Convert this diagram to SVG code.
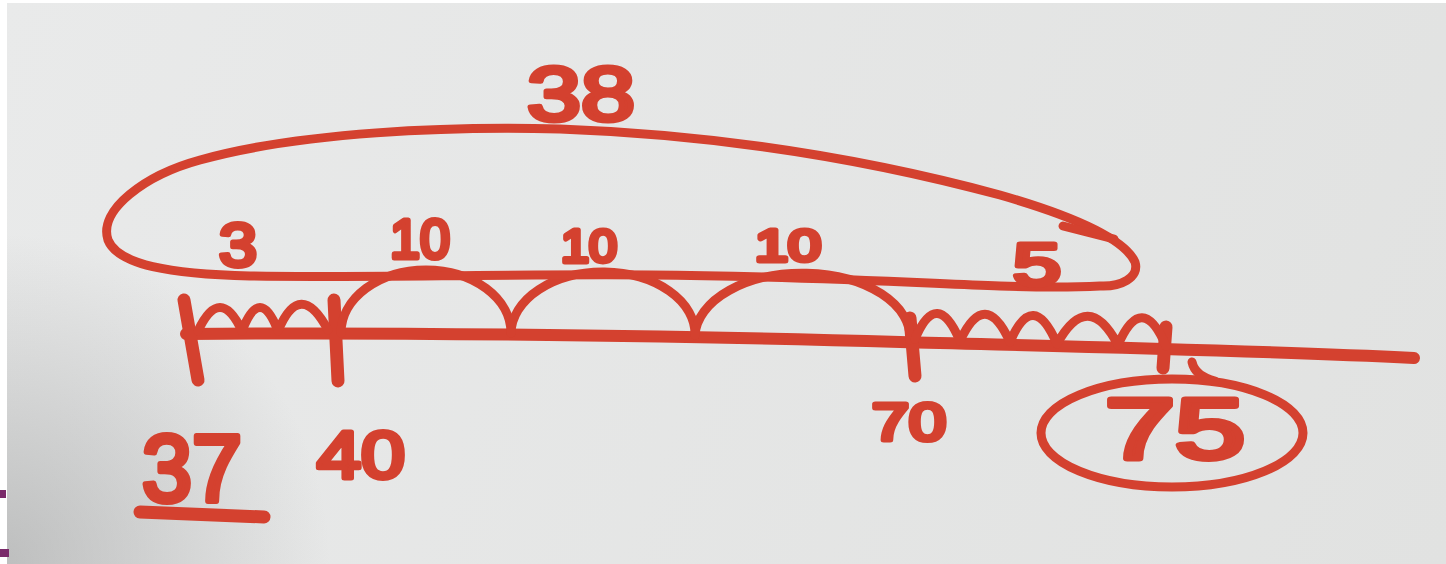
<svg xmlns="http://www.w3.org/2000/svg" width="1446" height="564" viewBox="0 0 1446 564">
  <defs>
    <radialGradient id="shade" cx="0" cy="564" r="330" gradientUnits="userSpaceOnUse">
      <stop offset="0" stop-color="#9a9b9b" stop-opacity="0.55"/>
      <stop offset="1" stop-color="#9a9b9b" stop-opacity="0"/>
    </radialGradient>
    <linearGradient id="paper" x1="0" y1="0" x2="1446" y2="564" gradientUnits="userSpaceOnUse">
      <stop offset="0" stop-color="#e9eaea"/>
      <stop offset="1" stop-color="#e1e2e1"/>
    </linearGradient>
    <style>
      .ink { fill: none; stroke: #d4412f; stroke-linecap: round; stroke-linejoin: round; }
      .main { stroke-width: 12; }
      .tick { stroke-width: 13; }
      .hop { stroke-width: 9; }
      .loop { stroke-width: 9; }
      .num { fill: #d4412f; stroke: #d4412f; stroke-width: 5; stroke-linejoin: round; stroke-linecap: round;
             font-family: "Liberation Sans", "DejaVu Sans", sans-serif; font-weight: normal; text-anchor: middle; }
      .big { stroke-width: 6; }
    </style>
  </defs>

  <rect width="1446" height="564" fill="#ffffff"/>
  <rect x="7" y="3" width="1439" height="561" fill="url(#paper)"/>
  <rect x="7" y="3" width="1439" height="561" fill="url(#shade)"/>
  <rect x="0" y="490" width="6" height="8" fill="#7a2a6a"/>
  <rect x="0" y="549" width="9" height="8" fill="#7a2a6a"/>

  <g id="number-line">
    <path class="ink main" d="M186,334 C400,332 700,336 900,342 C1050,346 1250,350 1414,358"/>
  </g>

  <g id="ticks">
    <path class="ink tick" d="M184,300 L198,380"/>
    <path class="ink tick" d="M334,300 L338,381"/>
    <path class="ink tick" d="M910,318 L915,376"/>
    <path class="ink tick" d="M1166,327 L1163,368"/>
  </g>

  <g id="connectors">
    <path class="ink hop" d="M198,331 Q220,284 242,331 Q260,284 278,331 Q300,278 328,330"/>
    <path class="ink hop" d="M341,333 A85,63 0 0 1 511,333"/>
    <path class="ink hop" d="M511,333 A92,62 0 0 1 695,335"/>
    <path class="ink hop" d="M695,335 A107,64 0 0 1 910,340"/>
    <path class="ink hop" d="M915,339 Q937,287 960,341 Q985,287 1010,342 Q1033,288 1057,344 Q1088,288 1118,345 Q1142,290 1166,346"/>
    <path class="ink loop" d="M1100,286 C1060,288 1030,287 1000,286 C900,282 800,276 650,275 C500,274 350,278 250,276 C170,274 118,265 108,240 C98,210 145,175 200,160 C300,132 450,126 560,129 C750,136 900,168 1000,195 C1080,218 1125,240 1135,262 C1140,278 1120,287 1100,286 Z"/>
    <path class="ink loop" d="M1063,226 L1114,239"/>
  </g>

  <g id="target-circle">
    <ellipse class="ink loop" cx="1172" cy="433" rx="131" ry="54"/>
    <path class="ink loop" d="M1192,362 Q1195,376 1215,381"/>
  </g>

  <g id="labels">
    <text class="num" x="581" y="120" font-size="76" textLength="108" lengthAdjust="spacingAndGlyphs">38</text>
    <text class="num" x="238" y="266" font-size="62" textLength="38" lengthAdjust="spacingAndGlyphs">3</text>
    <text class="num" x="420" y="258" font-size="56" textLength="60" lengthAdjust="spacingAndGlyphs">10</text>
    <text class="num" x="589" y="262" font-size="47" textLength="56" lengthAdjust="spacingAndGlyphs">10</text>
    <text class="num" x="788" y="261" font-size="45" textLength="66" lengthAdjust="spacingAndGlyphs">10</text>
    <text class="num" x="1037" y="285" font-size="60" textLength="48" lengthAdjust="spacingAndGlyphs">5</text>
    <text class="num" x="909" y="440" font-size="51" textLength="74" lengthAdjust="spacingAndGlyphs">70</text>
    <text class="num" x="361" y="478" font-size="66" textLength="88" lengthAdjust="spacingAndGlyphs">40</text>
    <text class="num big" x="192" y="501" font-size="94" textLength="100" lengthAdjust="spacingAndGlyphs">37</text>
    <path class="ink" stroke-width="13" d="M140,512 L264,517"/>
    <text class="num big" x="1175" y="458" font-size="86" textLength="140" lengthAdjust="spacingAndGlyphs">75</text>
  </g>
</svg>
